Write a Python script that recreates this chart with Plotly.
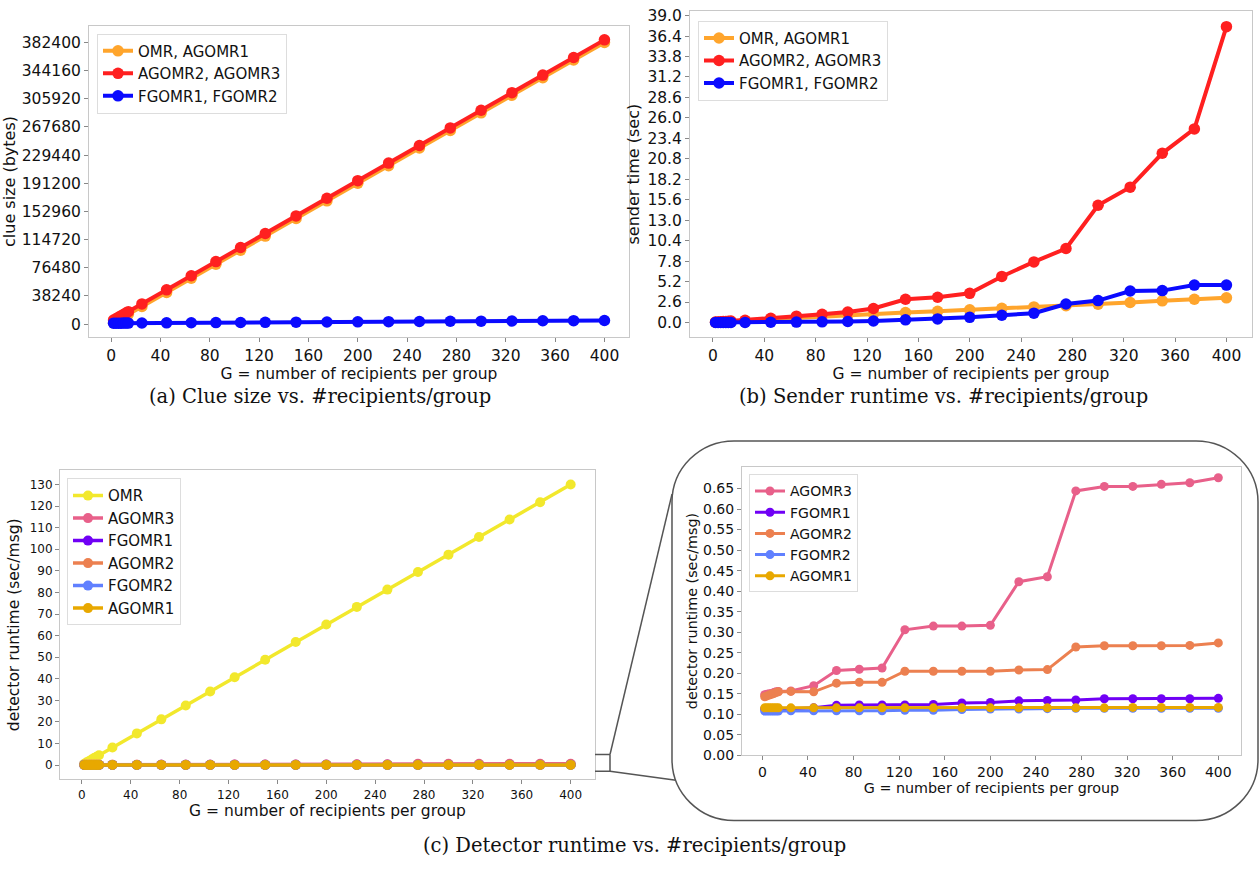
import plotly.graph_objects as go

W, H = 1260, 869

# ---------------- data ----------------
G = [2, 4, 6, 8, 10, 12, 14, 25, 45, 65, 85, 105, 125, 150, 175, 200, 225, 250,
     275, 300, 325, 350, 375, 400]
x_ticks = [0, 40, 80, 120, 160, 200, 240, 280, 320, 360, 400]

# (a) clue size (bytes)
clue_omr_agomr1 = [1912, 3824, 5736, 7648, 9560, 11472, 13384, 23900, 43020, 62140,
                   81260, 100380, 119500, 143400, 167300, 191200, 215100, 239000,
                   262900, 286800, 310700, 334600, 358500, 382400]
clue_agomr2_agomr3 = [5400, 7300, 9200, 11100, 13000, 14900, 16900, 27400, 46500, 65600,
                      84800, 103900, 123000, 146900, 170800, 194700, 218600, 242500,
                      266400, 290300, 314200, 338100, 362000, 385900]
clue_fgomr1_fgomr2 = [1220, 1240, 1260, 1290, 1310, 1330, 1350, 1450, 1640, 1820,
                      2000, 2190, 2380, 2610, 2840, 3070, 3300, 3530, 3760, 3990,
                      4220, 4450, 4680, 4910]
clue_ticks = [0, 38240, 76480, 114720, 152960, 191200, 229440, 267680, 305920,
              344160, 382400]

# (b) sender time (sec)
send_omr_agomr1 = [0.02, 0.03, 0.05, 0.06, 0.08, 0.09, 0.11, 0.20, 0.42, 0.60, 0.78,
                   0.95, 1.10, 1.27, 1.43, 1.60, 1.80, 1.98, 2.12, 2.32, 2.53, 2.75,
                   2.95, 3.13]
send_agomr2_agomr3 = [0.05, 0.07, 0.09, 0.11, 0.13, 0.15, 0.17, 0.28, 0.52, 0.80,
                      1.05, 1.32, 1.78, 2.95, 3.20, 3.70, 5.85, 7.70, 9.40, 14.90,
                      17.20, 21.50, 24.60, 37.60]
send_fgomr1_fgomr2 = [0.005, 0.005, 0.005, 0.005, 0.005, 0.006, 0.006, 0.01, 0.03,
                      0.05, 0.08, 0.12, 0.18, 0.33, 0.45, 0.65, 0.92, 1.18, 2.35, 2.78,
                      4.00, 4.05, 4.75, 4.75]
send_ticks = [0.0, 2.6, 5.2, 7.8, 10.4, 13.0, 15.6, 18.2, 20.8, 23.4, 26.0, 28.6,
              31.2, 33.8, 36.4, 39.0]

# (c) detector runtime (sec/msg)
det_omr = [0.65, 1.3, 1.95, 2.6, 3.25, 3.9, 4.55, 8.2, 14.7, 21.2, 27.6, 34.1, 40.7,
           48.8, 57.0, 65.1, 73.3, 81.3, 89.5, 97.5, 105.7, 113.8, 121.8, 130.0]
det_agomr3 = [0.148, 0.149, 0.150, 0.151, 0.153, 0.155, 0.156, 0.157, 0.170, 0.207,
              0.210, 0.213, 0.306, 0.315, 0.315, 0.317, 0.423, 0.435, 0.644, 0.655,
              0.655, 0.660, 0.664, 0.676]
det_fgomr1 = [0.113, 0.113, 0.113, 0.113, 0.113, 0.113, 0.113, 0.114, 0.116, 0.122,
              0.123, 0.123, 0.123, 0.124, 0.128, 0.129, 0.133, 0.134, 0.135, 0.138,
              0.138, 0.138, 0.138, 0.139]
det_agomr2 = [0.143, 0.145, 0.147, 0.149, 0.151, 0.153, 0.155, 0.156, 0.155, 0.176,
              0.178, 0.178, 0.205, 0.205, 0.205, 0.205, 0.208, 0.209, 0.264, 0.267,
              0.267, 0.267, 0.268, 0.274]
det_fgomr2 = [0.108, 0.108, 0.108, 0.108, 0.108, 0.108, 0.108, 0.109, 0.109, 0.109,
              0.109, 0.109, 0.110, 0.110, 0.112, 0.113, 0.113, 0.114, 0.115, 0.115,
              0.115, 0.115, 0.115, 0.115]
det_agomr1 = [0.116, 0.116, 0.116, 0.116, 0.116, 0.116, 0.116, 0.116, 0.116, 0.116,
              0.116, 0.116, 0.116, 0.116, 0.116, 0.116, 0.116, 0.116, 0.116, 0.116,
              0.117, 0.117, 0.117, 0.117]
det_ticks = [0, 10, 20, 30, 40, 50, 60, 70, 80, 90, 100, 110, 120, 130]
inset_ticks = [0.00, 0.05, 0.10, 0.15, 0.20, 0.25, 0.30, 0.35, 0.40, 0.45, 0.50,
               0.55, 0.60, 0.65]

# ---------------- styles ----------------
C_ORANGE = "#ffa52c"
C_RED = "#ff2020"
C_BLUE = "#0a0aff"
C_OMR = "#f2e82c"
C_AG3 = "#e8608a"
C_FG1 = "#7000f5"
C_AG2 = "#ec8050"
C_FG2 = "#6080ff"
C_AG1 = "#e8a800"

FONT = "DejaVu Sans"
SPINE = "#c8c8c8"


def px(x):
    return x / W


def py(y):
    return 1 - y / H


fig = go.Figure()


def add(xv, yv, name, color, ax, legend, lw, ms, show=True):
    fig.add_trace(go.Scatter(
        x=xv, y=yv, name=name, mode="lines+markers",
        line=dict(color=color, width=lw),
        marker=dict(color=color, size=ms, line=dict(width=0)),
        xaxis="x" + ax, yaxis="y" + ax, legend=legend, showlegend=show))


# (a)
add(G, clue_omr_agomr1, "OMR, AGOMR1", C_ORANGE, "", "legend", 4, 11.5)
add(G, clue_agomr2_agomr3, "AGOMR2, AGOMR3", C_RED, "", "legend", 4, 11.5)
add(G, clue_fgomr1_fgomr2, "FGOMR1, FGOMR2", C_BLUE, "", "legend", 4, 11.5)
# (b)
add(G, send_omr_agomr1, "OMR, AGOMR1", C_ORANGE, "2", "legend2", 4, 11.5)
add(G, send_agomr2_agomr3, "AGOMR2, AGOMR3", C_RED, "2", "legend2", 4, 11.5)
add(G, send_fgomr1_fgomr2, "FGOMR1, FGOMR2", C_BLUE, "2", "legend2", 4, 11.5)
# (c) left
add(G, det_omr, "OMR", C_OMR, "3", "legend3", 3.5, 10)
add(G, det_agomr3, "AGOMR3", C_AG3, "3", "legend3", 3.5, 10)
add(G, det_fgomr1, "FGOMR1", C_FG1, "3", "legend3", 3.5, 10)
add(G, det_agomr2, "AGOMR2", C_AG2, "3", "legend3", 3.5, 10)
add(G, det_fgomr2, "FGOMR2", C_FG2, "3", "legend3", 3.5, 10)
add(G, det_agomr1, "AGOMR1", C_AG1, "3", "legend3", 3.5, 10)
# (c) inset
add(G, det_agomr3, "AGOMR3", C_AG3, "4", "legend4", 3, 9)
add(G, det_fgomr1, "FGOMR1", C_FG1, "4", "legend4", 3, 9)
add(G, det_agomr2, "AGOMR2", C_AG2, "4", "legend4", 3, 9)
add(G, det_fgomr2, "FGOMR2", C_FG2, "4", "legend4", 3, 9)
add(G, det_agomr1, "AGOMR1", C_AG1, "4", "legend4", 3, 9)


def xax(l, r, anchor, tfs, title_fs):
    return dict(domain=[px(l), px(r)], anchor=anchor, range=[-17.9, 419.9],
                tickmode="array", tickvals=x_ticks, ticktext=[str(v) for v in x_ticks],
                showline=True, mirror=True, linecolor=SPINE, linewidth=1,
                ticks="outside", ticklen=4, tickcolor="#888", showgrid=False,
                zeroline=False, tickfont=dict(size=tfs, family=FONT, color="#111"),
                title=dict(text="G = number of recipients per group", standoff=2,
                           font=dict(size=title_fs, family=FONT, color="#111")))


def yax(t, b, anchor, rng, vals, texts, tfs, title, title_fs, standoff=6):
    return dict(domain=[py(b), py(t)], anchor=anchor, range=rng,
                tickmode="array", tickvals=vals, ticktext=texts,
                showline=True, mirror=True, linecolor=SPINE, linewidth=1,
                ticks="outside", ticklen=4, tickcolor="#888", showgrid=False,
                zeroline=False, tickfont=dict(size=tfs, family=FONT, color="#111"),
                title=dict(text=title, standoff=standoff,
                           font=dict(size=title_fs, family=FONT, color="#111")))


def leg(x, y, fs):
    return dict(x=px(x), y=py(y), xanchor="left", yanchor="top",
                bgcolor="rgba(255,255,255,0.85)", bordercolor="#dddddd", borderwidth=1,
                font=dict(size=fs, family=FONT, color="#111"), itemwidth=30)


layout = dict(
    width=W, height=H, autosize=False,
    margin=dict(l=0, r=0, t=0, b=0),
    paper_bgcolor="white", plot_bgcolor="white",
    xaxis=xax(89, 629, "y", 15.5, 15.5),
    yaxis=yax(22, 338, "x", [-18000, 405135], clue_ticks, [str(v) for v in clue_ticks],
              15.5, "clue size (bytes)", 16, standoff=6),
    xaxis2=xax(690, 1252, "y2", 15.5, 15.5),
    yaxis2=yax(7, 338, "x2", [-1.89, 39.6], send_ticks, ["%.1f" % v for v in send_ticks],
               15.5, "sender time (sec)", 16, standoff=3),
    xaxis3=xax(60, 595, "y3", 12, 15.5),
    yaxis3=yax(473, 786, "x3", [-6.49, 136.49], det_ticks, [str(v) for v in det_ticks],
               12, "detector runtime (sec/msg)", 15.5),
    xaxis4=xax(742, 1241, "y4", 14, 14.3),
    yaxis4=yax(469, 762, "x4", [0, 0.7034], inset_ticks, ["%.2f" % v for v in inset_ticks],
               14, "detector runtime (sec/msg)", 14.3, standoff=2),
    legend=leg(97, 30, 15),
    legend2=leg(698, 17, 15),
    legend3=leg(67, 481, 15),
    legend4=leg(749, 477, 14),
    showlegend=True,
)
fig.update_layout(**layout)

# captions
CAP = dict(family="DejaVu Serif", size=19.5, color="#111")
for text, cx, cy in [("(a) Clue size vs. #recipients/group", 320, 398),
                     ("(b) Sender runtime vs. #recipients/group", 943, 398),
                     ("(c) Detector runtime vs. #recipients/group", 634, 853)]:
    fig.add_annotation(text=text, x=px(cx), y=py(cy), xref="paper", yref="paper",
                       showarrow=False, xanchor="center", yanchor="middle", font=CAP)

# rounded box around inset
L, R, T, B, r = 672, 1258, 443, 828, 62
k = 0.5523 * r


def P(x, y):
    return "%.5f,%.5f" % (px(x), py(y))


path = ("M " + P(L + r, T) + " L " + P(R - r, T) +
        " C " + P(R - r + k, T) + " " + P(R, T + r - k) + " " + P(R, T + r) +
        " L " + P(R, B - r) +
        " C " + P(R, B - r + k) + " " + P(R - r + k, B) + " " + P(R - r, B) +
        " L " + P(L + r, B) +
        " C " + P(L + r - k, B) + " " + P(L, B - r + k) + " " + P(L, B - r) +
        " L " + P(L, T + r) +
        " C " + P(L, T + r - k) + " " + P(L + r - k, T) + " " + P(L + r, T) + " Z")
fig.add_shape(type="path", path=path, xref="paper", yref="paper",
              line=dict(color="#555555", width=1.5))

# zoom bracket and connector lines
seg = [((595, 761), (610, 761)), ((595, 778), (610, 778)), ((610, 761), (610, 778)),
       ((610, 761), (672, 497)), ((610, 778), (676, 787))]
for (x0, y0), (x1, y1) in seg:
    fig.add_shape(type="line", x0=px(x0), y0=py(y0), x1=px(x1), y1=py(y1),
                  xref="paper", yref="paper", line=dict(color="#555555", width=1.5))

fig.write_html("out.html",
               config={"displayModeBar": False},
               post_script="document.body.style.margin='0px';"
                           "document.body.style.padding='0px';")
